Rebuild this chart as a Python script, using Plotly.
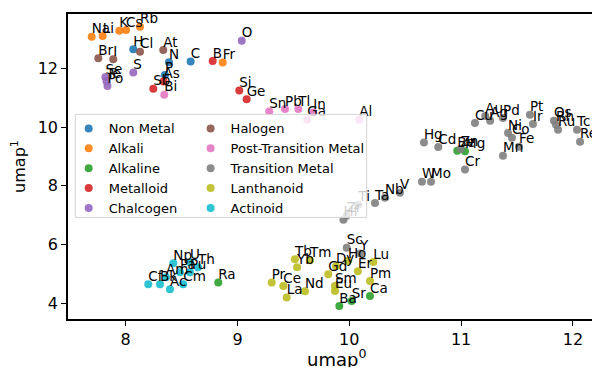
import plotly.graph_objects as go

categories = ["Non Metal", "Alkali", "Alkaline", "Metalloid", "Chalcogen",
              "Halogen", "Post-Transition Metal", "Transition Metal", "Lanthanoid", "Actinoid"]
colors = ["#1f77b4", "#ff7f0e", "#2ca02c", "#d62728", "#9467bd",
          "#8c564b", "#e377c2", "#7f7f7f", "#bcbd22", "#17becf"]
x_label = "umap<sup>0</sup>"
y_label = "umap<sup>1</sup>"
x_ticks = [8, 9, 10, 11, 12]
y_ticks = [4, 6, 8, 10, 12]

nonmetal_names = ["H", "C", "N", "P"]
nonmetal_x = [8.068, 8.581, 8.387, 8.351]
nonmetal_y = [12.644, 12.224, 12.203, 11.773]

alkali_names = ["Na", "Li", "K", "Cs", "Rb", "Fr"]
alkali_x = [7.696, 7.794, 7.943, 8.003, 8.128, 8.868]
alkali_y = [13.071, 13.095, 13.275, 13.298, 13.41, 12.19]

alkaline_names = ["Be", "Mg", "Ca", "Sr", "Ba", "Ra"]
alkaline_x = [10.966, 11.035, 10.185, 10.021, 9.911, 8.828]
alkaline_y = [9.197, 9.173, 4.258, 4.088, 3.919, 4.712]

metalloid_names = ["B", "Si", "Ge", "As", "Sb"]
metalloid_x = [8.778, 9.016, 9.082, 8.338, 8.247]
metalloid_y = [12.247, 11.241, 10.949, 11.545, 11.298]

chalcogen_names = ["O", "S", "Se", "Te", "Po"]
chalcogen_x = [9.038, 8.068, 7.819, 7.828, 7.837]
chalcogen_y = [12.936, 11.851, 11.705, 11.569, 11.399]

halogen_names = ["Br", "I", "Cl", "At"]
halogen_x = [7.755, 7.889, 8.128, 8.336]
halogen_y = [12.339, 12.305, 12.563, 12.62]

posttrans_names = ["Bi", "Sn", "Pb", "Tl", "Ga", "In", "Al"]
posttrans_x = [8.345, 9.284, 9.425, 9.544, 9.624, 9.678, 10.089]
posttrans_y = [11.095, 10.529, 10.61, 10.61, 10.247, 10.495, 10.247]

transition_names = ["Ti", "Ta", "Nb", "V", "W", "Mo", "Hf", "Zr", "Hg", "Cd", "Zn", "Cr",
                    "Cu", "Au", "Ag", "Pd", "Pt", "Ir", "Ni", "Co", "Fe", "Mn", "Os",
                    "Rh", "Ru", "Tc", "Re", "Sc", "Y"]
transition_x = [10.081, 10.23, 10.319, 10.453, 10.65, 10.731, 9.948, 9.975, 10.668, 10.796,
                10.996, 11.035, 11.124, 11.216, 11.26, 11.375, 11.616, 11.643, 11.42, 11.455,
                11.518, 11.375, 11.831, 11.849, 11.867, 12.037, 12.064, 9.977, 10.096]
transition_y = [7.36, 7.418, 7.597, 7.767, 8.14, 8.14, 6.851, 6.986, 9.478, 9.322,
                9.254, 8.553, 10.136, 10.377, 10.21, 10.31, 10.417, 10.107, 9.80, 9.634,
                9.33, 9.023, 10.211, 10.075, 9.906, 9.906, 9.50, 5.898, 5.705]

lanthanoid_names = ["Tb", "Tm", "Yb", "Ho", "Dy", "Er", "Lu", "Gd", "Pr", "Ce", "Nd", "La",
                    "Sm", "Eu", "Pm"]
lanthanoid_x = [9.514, 9.648, 9.533, 9.988, 9.881, 10.077, 10.215, 9.812, 9.306, 9.41, 9.604,
                9.44, 9.872, 9.872, 10.185]
lanthanoid_y = [5.502, 5.468, 5.23, 5.444, 5.264, 5.095, 5.41, 4.993, 4.712, 4.597, 4.417,
                4.203, 4.597, 4.427, 4.766]

actinoid_names = ["Np", "U", "Th", "Pu", "Pa", "Am", "Cf", "Bk", "Ac", "Cm"]
actinoid_x = [8.426, 8.575, 8.647, 8.575, 8.486, 8.36, 8.202, 8.307, 8.396, 8.515]
actinoid_y = [5.366, 5.4, 5.23, 5.061, 5.061, 4.892, 4.654, 4.654, 4.485, 4.654]

groups = [
    (nonmetal_names, nonmetal_x, nonmetal_y),
    (alkali_names, alkali_x, alkali_y),
    (alkaline_names, alkaline_x, alkaline_y),
    (metalloid_names, metalloid_x, metalloid_y),
    (chalcogen_names, chalcogen_x, chalcogen_y),
    (halogen_names, halogen_x, halogen_y),
    (posttrans_names, posttrans_x, posttrans_y),
    (transition_names, transition_x, transition_y),
    (lanthanoid_names, lanthanoid_x, lanthanoid_y),
    (actinoid_names, actinoid_x, actinoid_y),
]

FONT = "DejaVu Sans"
fig = go.Figure()

for i, (cat, col, (names, xs, ys)) in enumerate(zip(categories, colors, groups)):
    fig.add_trace(go.Scatter(
        x=xs, y=ys, mode="markers", name=cat,
        marker=dict(color=col, size=8, opacity=0.9, line=dict(width=0)),
        legend="legend" if i < 5 else "legend2",
        hoverinfo="skip",
    ))

for names, xs, ys in groups:
    fig.add_trace(go.Scatter(
        x=xs, y=ys, mode="text", text=names, textposition="top right",
        textfont=dict(family=FONT, size=13.5, color="black"),
        showlegend=False, hoverinfo="skip",
    ))

# legend frame (drawn above the data, semi-transparent like matplotlib)
fig.add_shape(type="rect", xref="paper", yref="paper",
              x0=0.0139, x1=0.570, y0=0.333, y1=0.671,
              fillcolor="rgba(255,255,255,0.8)", line=dict(color="#d4d4d4", width=1),
              layer="above")

# x-axis label centred on the (wider, cropped) original axes
fig.add_annotation(text=x_label, xref="paper", yref="paper", x=0.513, y=0,
                   xanchor="center", yanchor="top", yshift=-25, showarrow=False,
                   font=dict(family=FONT, size=18, color="black"))

leg_common = dict(bgcolor="rgba(0,0,0,0)", borderwidth=0,
                  font=dict(family=FONT, size=13, color="black"),
                  xanchor="left", yanchor="top", itemsizing="trace", tracegroupgap=0)

fig.update_layout(
    width=592, height=367,
    margin=dict(l=68, r=0, t=14, b=48),
    paper_bgcolor="white", plot_bgcolor="white",
    font=dict(family=FONT, color="black"),
    legend=dict(x=0.0013, y=0.674, **leg_common),
    legend2=dict(x=0.234, y=0.674, **leg_common),
    xaxis=dict(range=[7.484, 12.171], tickvals=x_ticks,
               showgrid=False, zeroline=False, showline=True, linecolor="black",
               linewidth=1.6, mirror=True, ticks="outside", ticklen=5, tickwidth=1.3,
               tickcolor="black", tickfont=dict(family=FONT, size=16)),
    yaxis=dict(range=[3.474, 13.843], tickvals=y_ticks,
               showgrid=False, zeroline=False, showline=True, linecolor="black",
               linewidth=1.6, ticks="outside", ticklen=5, tickwidth=1.3,
               tickcolor="black", tickfont=dict(family=FONT, size=16),
               title=dict(text=y_label, font=dict(family=FONT, size=16), standoff=8)),
)

fig.write_html("out.html", config={"displayModeBar": False},
               post_script="document.body.style.margin='0px';document.body.style.padding='0px';")
